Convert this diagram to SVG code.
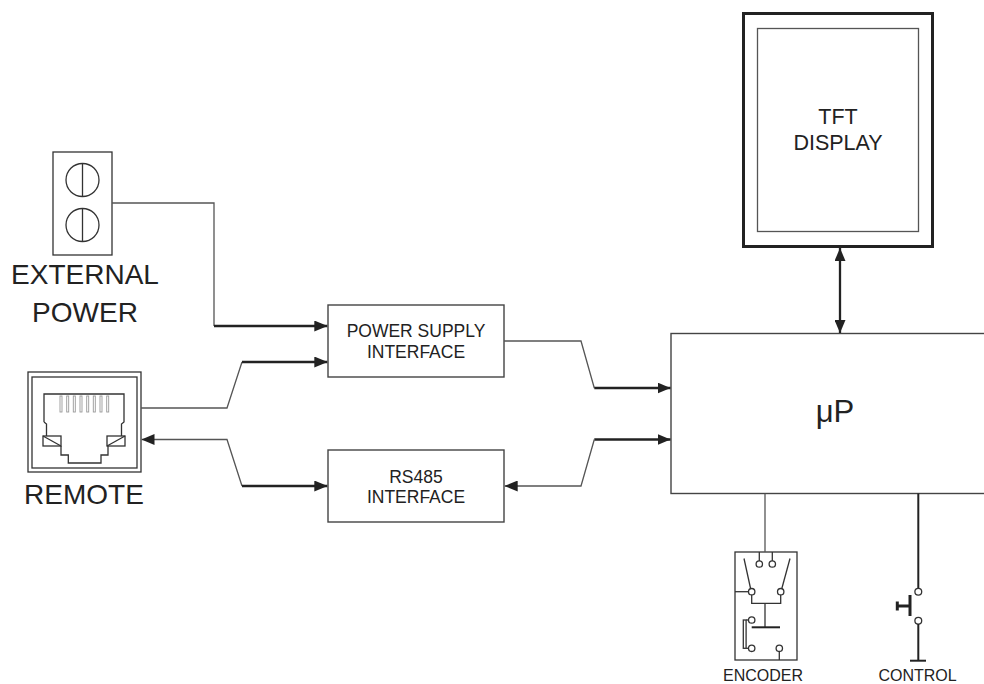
<svg xmlns="http://www.w3.org/2000/svg" width="984" height="684" viewBox="0 0 984 684">
<defs>
<style>
.box{fill:#fff;stroke:#444;stroke-width:1.4}
.thin{fill:none;stroke:#555;stroke-width:1.3}
.thick{fill:none;stroke:#222;stroke-width:2.3}
.sym{fill:none;stroke:#333;stroke-width:1.3}
.bar{fill:none;stroke:#222;stroke-width:3}
.pin{fill:none;stroke:#999;stroke-width:0.9}
.lbl{font-family:"Liberation Sans",Arial,sans-serif;fill:#222;text-anchor:middle}
.big{font-size:28px}
.mid{font-size:17.5px}
.sm{font-size:16px}
</style>
<marker id="ah" viewBox="0 0 13 11" refX="13" refY="5.5" markerWidth="13" markerHeight="11" markerUnits="userSpaceOnUse" orient="auto-start-reverse">
<path d="M0,0 L13,5.5 L0,11 z" fill="#222"/>
</marker>
</defs>
<rect width="984" height="684" fill="#fff"/>

<g id="external-power">
<rect x="53" y="152" width="59" height="103" class="sym"/>
<circle cx="82.5" cy="180" r="16.5" class="sym"/>
<line x1="82.5" y1="163.5" x2="82.5" y2="196.5" class="sym"/>
<circle cx="82.5" cy="225" r="16.5" class="sym"/>
<line x1="82.5" y1="208.5" x2="82.5" y2="241.5" class="sym"/>
<text x="85" y="284" class="lbl big">EXTERNAL</text>
<text x="85" y="322" class="lbl big">POWER</text>
</g>

<g id="remote">
<rect x="28" y="372" width="113" height="100" class="sym"/>
<rect x="32" y="377" width="105" height="91" class="sym"/>
<path d="M44,422 V394 H124 V422 L121.5,424 V436 M44,422 L46.5,424 V436" class="sym"/>
<rect x="43" y="436" width="18" height="10" class="sym"/>
<line x1="43" y1="436" x2="61" y2="446" class="sym"/>
<rect x="107" y="436" width="18" height="10" class="sym"/>
<line x1="107" y1="446" x2="125" y2="436" class="sym"/>
<path d="M61,446 V455 H68.3 V463 H101 V455 H108 V446" class="sym"/>
<g class="pin">
<rect x="60" y="396" width="2" height="16"/>
<rect x="66.7" y="396" width="2" height="16"/>
<rect x="73.3" y="396" width="2" height="16"/>
<rect x="80" y="396" width="2" height="16"/>
<rect x="86.7" y="396" width="2" height="16"/>
<rect x="93.3" y="396" width="2" height="16"/>
<rect x="100" y="396" width="2" height="16"/>
<rect x="106.7" y="396" width="2" height="16"/>
</g>
<text x="84" y="504" class="lbl big">REMOTE</text>
</g>

<g id="power-supply-interface">
<rect x="328" y="305" width="176" height="72" class="box"/>
<text x="416" y="337" class="lbl mid">POWER SUPPLY</text>
<text x="416" y="357.5" class="lbl mid">INTERFACE</text>
</g>

<g id="rs485-interface">
<rect x="328" y="450" width="176" height="72" class="box"/>
<text x="416" y="482.5" class="lbl mid">RS485</text>
<text x="416" y="503" class="lbl mid">INTERFACE</text>
</g>

<g id="up">
<rect x="671" y="333.5" width="330" height="160" class="box"/>
<text x="835" y="422" class="lbl" style="font-size:31px">μP</text>
</g>

<g id="tft-display">
<rect x="743.5" y="13.5" width="189" height="233" fill="#fff" stroke="#222" stroke-width="3"/>
<rect x="757.5" y="28.5" width="161" height="203" fill="none" stroke="#555" stroke-width="1.3"/>
<text x="838" y="123.5" class="lbl" style="font-size:21.5px">TFT</text>
<text x="838" y="150" class="lbl" style="font-size:21.5px">DISPLAY</text>
</g>

<g id="encoder">
<rect x="735" y="552" width="62" height="108" class="sym"/>
<line x1="759.3" y1="552" x2="759.3" y2="561" class="sym"/>
<line x1="772.3" y1="552" x2="772.3" y2="561" class="sym"/>
<circle cx="759.3" cy="564" r="3.2" class="sym"/>
<circle cx="772.3" cy="564" r="3.2" class="sym"/>
<line x1="744" y1="558.5" x2="750.7" y2="589" class="sym"/>
<line x1="790" y1="558.5" x2="781.7" y2="589" class="sym"/>
<line x1="735" y1="591.7" x2="748.5" y2="591.7" class="sym"/>
<circle cx="751.7" cy="591.7" r="3.2" class="sym"/>
<circle cx="780.7" cy="591.7" r="3.2" class="sym"/>
<path d="M751.7,595 V603.3 H780.7 V595" class="sym"/>
<line x1="765" y1="603.3" x2="765" y2="627.3" class="sym"/>
<line x1="751.7" y1="627.3" x2="780" y2="627.3" stroke="#222" stroke-width="2"/>
<rect x="743.3" y="620" width="2.8" height="28.3" class="sym"/>
<line x1="746.1" y1="620" x2="748.5" y2="620" class="sym"/>
<line x1="746.1" y1="648.3" x2="748.5" y2="648.3" class="sym"/>
<circle cx="751.7" cy="620" r="3.2" class="sym"/>
<circle cx="751.7" cy="648.3" r="3.2" class="sym"/>
<circle cx="779.3" cy="648.3" r="3.2" class="sym"/>
<line x1="779.3" y1="651.5" x2="779.3" y2="660" class="sym"/>
<text x="763" y="681" class="lbl sm">ENCODER</text>
</g>

<g id="control">
<line x1="918.3" y1="493.5" x2="918.3" y2="588.3" stroke="#222" stroke-width="2"/>
<circle cx="918.3" cy="591.7" r="3.4" class="sym"/>
<circle cx="918.3" cy="620.7" r="3.4" class="sym"/>
<line x1="918.3" y1="624" x2="918.3" y2="660.7" stroke="#222" stroke-width="2"/>
<line x1="910" y1="660.7" x2="926" y2="660.7" stroke="#222" stroke-width="2"/>
<line x1="910" y1="595" x2="910" y2="616" class="bar"/>
<line x1="897.3" y1="606" x2="910" y2="606" class="bar"/>
<line x1="897.3" y1="601.5" x2="897.3" y2="610.5" class="bar"/>
<text x="917.5" y="681" class="lbl sm">CONTROL</text>
</g>

<g id="connectors">
<path d="M112,203 H214 V326" class="thin"/>
<path d="M214,326 H327.3" class="thick" marker-end="url(#ah)"/>
<path d="M141,408 H227 L242,362" class="thin"/>
<path d="M242,362 H327.3" class="thick" marker-end="url(#ah)"/>
<path d="M141.5,439.5 H227 L242,486" class="thin" marker-start="url(#ah)"/>
<path d="M242,486 H327.3" class="thick" marker-end="url(#ah)"/>
<path d="M504,341 H581 L594.3,388" class="thin"/>
<path d="M594.3,388 H670.5" class="thick" marker-end="url(#ah)"/>
<path d="M594.3,439.5 H670.5" class="thick" marker-end="url(#ah)"/>
<path d="M594.3,439.5 L581,486 H504.7" class="thin" marker-end="url(#ah)"/>
<path d="M840,248 V333" class="thick" marker-start="url(#ah)" marker-end="url(#ah)"/>
<path d="M765,493.5 V552" class="thin"/>
</g>
</svg>
